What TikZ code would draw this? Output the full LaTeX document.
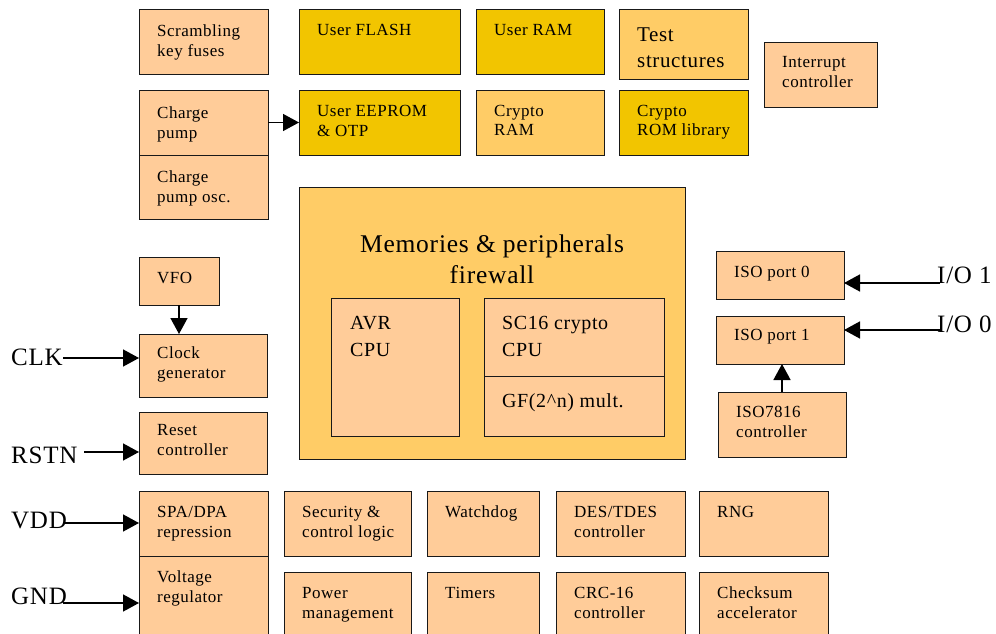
\documentclass[tikz,border=0pt]{standalone}
\usepackage{fontspec}
\setmainfont{Liberation Serif}[LetterSpace=3]
\usetikzlibrary{arrows.meta}
\definecolor{peach}{HTML}{FFCC99}
\definecolor{gold}{HTML}{F2C500}
\definecolor{lorange}{HTML}{FFCC66}
\newcommand\tx[1]{\begin{tabular}[t]{@{}l@{}}#1\end{tabular}}
\newcommand\bx[8]{%
  \node[blk,fill=#6,minimum width={(#4)-(#2)},minimum height={(#5)-(#3)}] (#1) at ({((#2)+(#4))/2},{((#3)+(#5))/2}) {};
  \node[txt] (#1-t) at ({(#2)+18},{(#3)+(#7)}) {\tx{#8}};}
\tikzset{
  blk/.style={rectangle,draw=black!90,line width=1pt,inner sep=0pt,outer sep=0pt},
  txt/.style={anchor=base west,inner sep=0pt,font=\fontsize{17}{20}\selectfont},
  sig/.style={anchor=base west,inner sep=0pt,font=\fontsize{25}{30}\selectfont},
  arr/.style={line width=1.5pt,-{Triangle[length=16pt,width=17pt]}}
}
\begin{document}
\begin{tikzpicture}[x=1pt,y=-1pt]
\useasboundingbox[fill=white] (0,0) rectangle (996,634);
% top area
\bx{scr}{139}{10}{268}{75}{peach}{27}{Scrambling\\key fuses}
\bx{flash}{299}{10}{460}{75}{gold}{26}{User FLASH}
\bx{uram}{476}{10}{604}{75}{gold}{26}{User RAM}
\node[blk,fill=lorange,minimum width=129,minimum height=70] (test) at (683.5,45) {};
\node[txt,font=\fontsize{21}{26}\selectfont] (test-t) at (637,42) {\tx{Test\\structures}};
\bx{irq}{764}{43}{877}{107}{peach}{25}{Interrupt\\controller}
\bx{cp}{139}{90}{268}{155}{peach}{28}{Charge\\pump}
\bx{cpo}{139}{155}{268}{219}{peach}{27}{Charge\\pump osc.}
\bx{eep}{299}{90}{460}{155}{gold}{27}{User EEPROM\\\& OTP}
\bx{cram}{476}{90}{604}{155}{lorange}{26}{Crypto\\RAM}
\bx{crom}{619}{90}{748}{155}{gold}{26}{Crypto\\ROM library}
% firewall
\node[blk,fill=lorange,minimum width=386,minimum height=272] (fw) at (492,323) {};
\node[inner sep=0pt,anchor=base,font=\fontsize{25.5}{31}\selectfont] (fw-t) at (492,252) {\begin{tabular}[t]{@{}c@{}}Memories \& peripherals\\firewall\end{tabular}};
\node[blk,fill=peach,minimum width=128,minimum height=138] (avr) at (395,367) {};
\node[txt,font=\fontsize{20}{27}\selectfont] (avr-t) at (350,329) {\tx{AVR\\CPU}};
\node[blk,fill=peach,minimum width=180,minimum height=78] (sc16) at (574,337) {};
\node[txt,font=\fontsize{20}{27}\selectfont] (sc16-t) at (502,329) {\tx{SC16 crypto\\CPU}};
\node[blk,fill=peach,minimum width=180,minimum height=60] (gf) at (574,406) {};
\node[txt,font=\fontsize{20}{27}\selectfont] (gf-t) at (502,407) {\tx{GF(2\^{}n) mult.}};
% left column
\bx{vfo}{139}{257}{219}{305}{peach}{26}{VFO}
\bx{clk}{139}{334}{267}{397}{peach}{24}{Clock\\generator}
\bx{rst}{139}{412}{267}{474}{peach}{23}{Reset\\controller}
\bx{spa}{139}{491}{268}{556}{peach}{26}{SPA/DPA\\repression}
\bx{vreg}{139}{556}{268}{645}{peach}{26}{Voltage\\regulator}
% bottom rows
\bx{sec}{284}{491}{411}{556}{peach}{26}{Security \&\\control logic}
\bx{pwr}{284}{572}{411}{645}{peach}{26}{Power\\management}
\bx{wdg}{427}{491}{539}{556}{peach}{26}{Watchdog}
\bx{tmr}{427}{572}{539}{645}{peach}{26}{Timers}
\bx{des}{556}{491}{685}{556}{peach}{26}{DES/TDES\\controller}
\bx{crc}{556}{572}{685}{645}{peach}{26}{CRC-16\\controller}
\bx{rng}{699}{491}{828}{556}{peach}{26}{RNG}
\bx{chk}{699}{572}{828}{645}{peach}{26}{Checksum\\accelerator}
% ISO
\bx{iso0}{716}{251}{844}{299}{peach}{26}{ISO port 0}
\bx{iso1}{716}{316}{844}{364}{peach}{24}{ISO port 1}
\bx{iso7816}{718}{392}{846}{457}{peach}{25}{ISO7816\\controller}
% signal labels
\node[sig] (clkl) at (11,365) {CLK};
\node[sig] (rstl) at (11,463) {RSTN};
\node[sig] (vddl) at (11,528) {VDD};
\node[sig] (gndl) at (11,604) {GND};
\node[sig] (io1l) at (937,283) {I/O 1};
\node[sig] (io0l) at (937,332) {I/O 0};
\coordinate (clkin) at (63,358);
\coordinate (rstin) at (84,452);
\coordinate (vddin) at (63,523);
\coordinate (gndin) at (63,603);
\coordinate (io1in) at (940,283);
\coordinate (io0in) at (940,330);
% connectors
\draw[arr] (cp.east) -- (eep.west);
\draw[arr] (vfo.south) -- (vfo.south |- clk.north);
\draw[arr] (iso7816.north) -- (iso7816.north |- iso1.south);
\draw[arr] (clkin) -- (clkin -| clk.west);
\draw[arr] (rstin) -- (rstin -| rst.west);
\draw[arr] (vddin) -- (vddin -| spa.west);
\draw[arr] (gndin) -- (gndin -| vreg.west);
\draw[arr] (io1in) -- (io1in -| iso0.east);
\draw[arr] (io0in) -- (io0in -| iso1.east);
\end{tikzpicture}
\end{document}
